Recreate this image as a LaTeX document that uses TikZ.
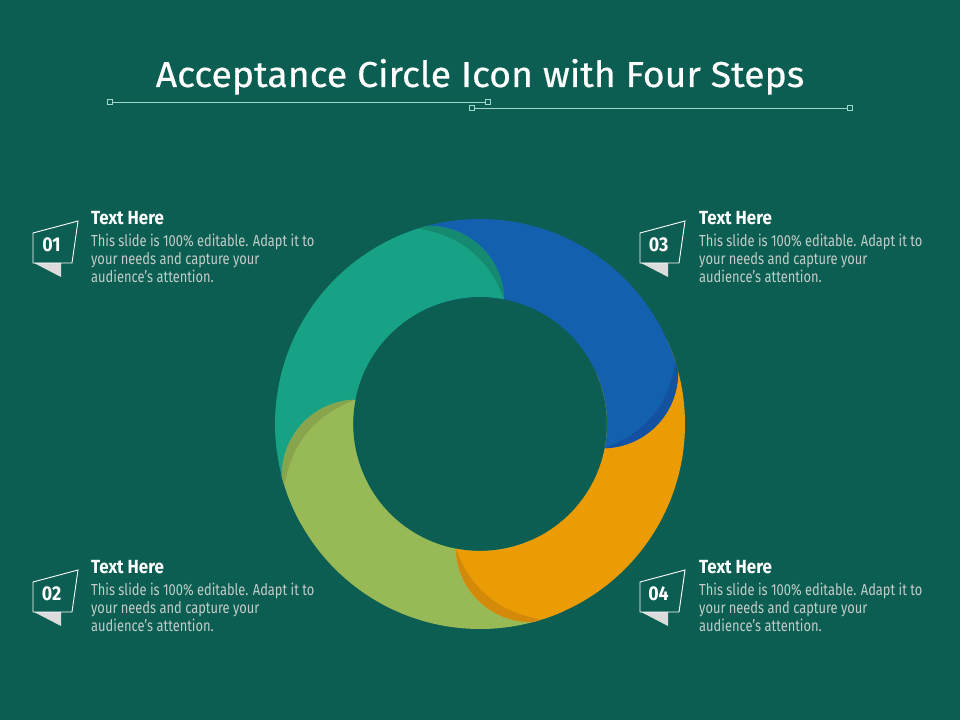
\documentclass[tikz,border=0pt]{standalone}
\usepackage{fontspec}
\setmainfont{Fira Sans}
\newfontfamily\titlef[FakeStretch=1.04,FakeBold=0.5]{Fira Sans}
\newfontfamily\condf[FakeStretch=0.805]{Fira Sans}
\newfontfamily\headf[FakeStretch=0.89]{Fira Sans}
\usetikzlibrary{calc}
\definecolor{bg}{HTML}{0C5E52}
\definecolor{tealc}{HTML}{17A185}
\definecolor{tealdark}{HTML}{158A71}
\definecolor{bluec}{HTML}{1360AE}
\definecolor{bluedark}{HTML}{1252A0}
\definecolor{orangec}{HTML}{EB9C05}
\definecolor{orangedark}{HTML}{D38A0A}
\definecolor{greenc}{HTML}{98BA56}
\definecolor{greendark}{HTML}{88A54E}
\definecolor{linec}{HTML}{A0D7CC}
\definecolor{bodyc}{HTML}{C3CCC8}
\definecolor{badgegrey}{HTML}{DCDCDC}
\tikzset{
  sq/.style={draw=linec, fill=bg, minimum width=4.5pt, minimum height=4.5pt, inner sep=0pt, line width=0.7pt},
  titlestyle/.style={text=white, inner sep=0pt, font=\titlef\fontsize{36}{42}\selectfont},
  headstyle/.style={text=white, inner sep=0pt, font=\headf\bfseries\fontsize{19}{22}\selectfont},
  bodystyle/.style={text=bodyc, inner sep=0pt, font=\condf\fontsize{16}{18}\selectfont},
  numstyle/.style={text=white, inner sep=0pt, font=\headf\bfseries\fontsize{20}{22}\selectfont},
}
\def\Ro{205pt}
\def\Ri{127pt}
\newcommand\ringseg[3]{%
  \pgfmathsetmacro\tho{#2+26}%
  \fill[#1] ($(C)+(#3:\Ro)$) arc[start angle=#3, end angle=\tho, radius=\Ro]
    to[bend left=45] ($(C)+(#2:\Ri)$) arc[start angle=#2, end angle=#3, radius=\Ri] -- cycle;
}
\newcommand\ringband[2]{%
  \pgfmathsetmacro\tho{#2+26}\pgfmathsetmacro\thl{#2+28.5}%
  \fill[#1] ($(C)+(\thl:\Ro)$) arc[start angle=\thl, end angle=\tho, radius=\Ro]
    to[bend left=45] ($(C)+(#2:\Ri)$) to[bend right=30] ($(C)+(\thl:\Ro)$) -- cycle;
}
\newcommand\badge[4]{%
  \begin{scope}[shift={(#2,-#3)}]
    \fill[badgegrey] (34,720-263) -- (61,720-263) -- (61,720-277) -- cycle;
    \draw[white, line width=0.9pt, line join=miter] (33,720-233) -- (78,720-221) -- (72,720-263) -- (33,720-263) -- cycle;
    \node[numstyle] (#1) at (51.5,720-245) {#4};
  \end{scope}}
\newcommand\tblock[3]{%
  \node[headstyle, anchor=base west] (#1h) at (#2,720-#3) {Text Here};
  \node[bodystyle, anchor=base west] (#1a) at (#2,720-#3-22) {This slide is 100\% editable. Adapt it to};
  \node[bodystyle, anchor=base west] (#1b) at (#2,720-#3-40) {your needs and capture your};
  \node[bodystyle, anchor=base west] (#1c) at (#2,720-#3-58) {audience’s attention.};
}
\begin{document}
\begin{tikzpicture}[x=1pt,y=1pt]
\useasboundingbox (0,0) rectangle (960,720);
\fill[bg] (0,0) rectangle (960,720);
% title
\node[titlestyle, anchor=base] (title) at (480,720-87) {Acceptance Circle Icon with Four Steps};
\node[sq] (l1a) at (110,720-102) {};
\node[sq] (l1b) at (488,720-102) {};
\node[sq] (l2a) at (472,720-108) {};
\node[sq] (l2b) at (850,720-108) {};
\draw[linec, line width=0.8pt] (l1a) -- (l1b);
\draw[linec, line width=0.8pt] (l2a) -- (l2b);
% ring
\coordinate (C) at (480,296);
\ringseg{greenc}{-191}{-66}
\ringband{greendark}{-191}
\ringseg{orangec}{-101}{24}
\ringband{orangedark}{-101}
\ringseg{bluec}{-11}{114}
\ringband{bluedark}{-11}
\ringseg{tealc}{79}{204}
\ringband{tealdark}{79}
\ringseg{greenc}{-191}{-151}
\ringband{greendark}{-191}
% badges and texts
\badge{n1}{0}{0}{01}
\badge{n2}{0}{349}{02}
\badge{n3}{607}{0}{03}
\badge{n4}{607}{349}{04}
\tblock{t1}{91}{224.5}
\tblock{t2}{91}{573.5}
\tblock{t3}{699}{224.5}
\tblock{t4}{699}{573.5}
\end{tikzpicture}
\end{document}
